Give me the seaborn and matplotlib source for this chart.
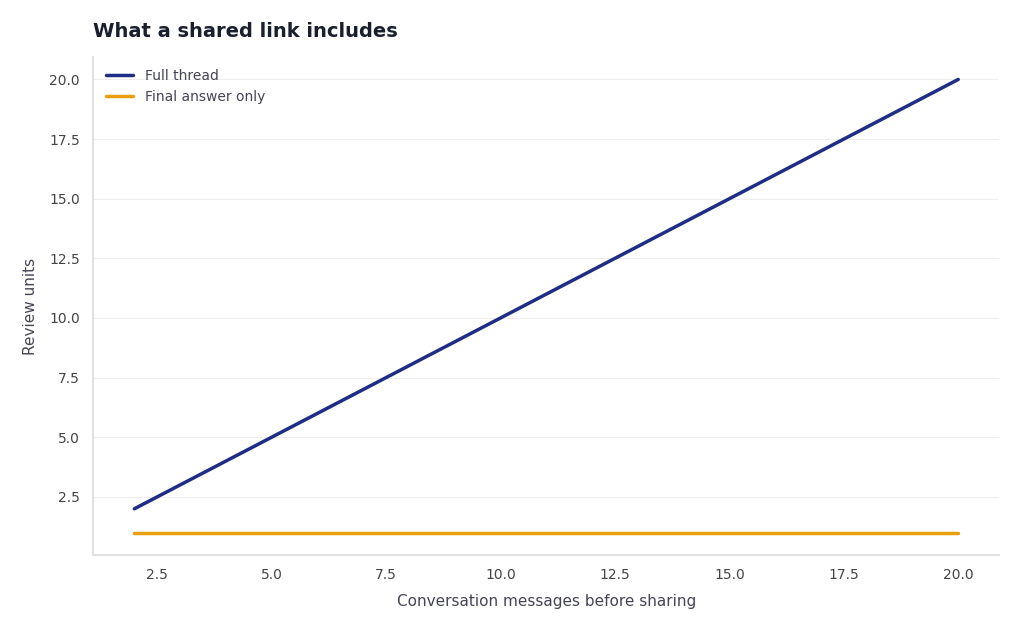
import matplotlib
matplotlib.use("Agg")
import matplotlib.pyplot as plt
import seaborn as sns
import pandas as pd

messages = [2, 4, 6, 8, 10, 12, 14, 16, 18, 20]
full_thread = [2, 4, 6, 8, 10, 12, 14, 16, 18, 20]
final_only = [1, 1, 1, 1, 1, 1, 1, 1, 1, 1]

df = pd.DataFrame({
    "x": messages * 2,
    "y": full_thread + final_only,
    "series": ["Full thread"] * len(messages) + ["Final answer only"] * len(messages),
})

sns.set_theme(style="white")
plt.rcParams['font.family'] = ['DejaVu Sans']
fig, ax = plt.subplots(figsize=(10.24, 6.31), dpi=100)
fig.subplots_adjust(left=0.091, right=0.976, top=0.91, bottom=0.12)
sns.lineplot(data=df, x="x", y="y", hue="series",
             palette={"Full thread": "#1f2d84", "Final answer only": "#e8a010"},
             linewidth=2.5, ax=ax)
ax.grid(axis="y", color="#eeeeee", linewidth=0.8)
for s in ["top", "right"]:
    ax.spines[s].set_visible(False)
for s in ["left", "bottom"]:
    ax.spines[s].set_color("#dddddd")
ax.tick_params(colors="#444444", labelsize=10)
ax.set_xlabel("Conversation messages before sharing", fontsize=11, color="#444455", labelpad=8)
ax.set_ylabel("Review units", fontsize=11, color="#444455", labelpad=8)
ax.set_title("What a shared link includes", loc="left", fontsize=14, fontweight="bold",
             color="#1a1f2e", pad=14)
leg = ax.legend(loc="upper left", frameon=False, fontsize=10, title=None)
for t in leg.get_texts():
    t.set_color("#444455")
fig.savefig("out.png", dpi=100)
